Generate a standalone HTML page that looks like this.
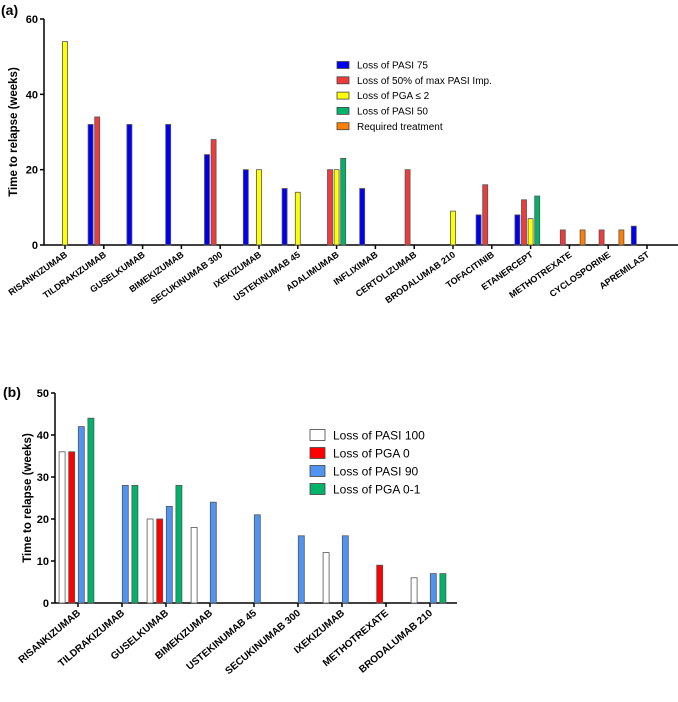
<!DOCTYPE html>
<html><head><meta charset="utf-8">
<style>body{margin:0;background:#fff}svg{display:block;font-family:"Liberation Sans",Arial,sans-serif}</style>
</head><body>
<svg id="s" width="678" height="702" viewBox="0 0 678 702"></svg>
<script>
// Panel (a) data
const catsA=["RISANKIZUMAB","TILDRAKIZUMAB","GUSELKUMAB","BIMEKIZUMAB","SECUKINUMAB 300","IXEKIZUMAB","USTEKINUMAB 45","ADALIMUMAB","INFLIXIMAB","CERTOLIZUMAB","BRODALUMAB 210","TOFACITINIB","ETANERCEPT","METHOTREXATE","CYCLOSPORINE","APREMILAST"];
const seriesNamesA=["Loss of PASI 75","Loss of 50% of max PASI Imp.","Loss of PGA \u2264 2","Loss of PASI 50","Required treatment"];
const pasi75A=[null,32,32,32,24,20,15,null,15,null,null,8,8,null,null,5];
const max50A=[null,34,null,null,28,null,null,20,null,20,null,16,12,4,4,null];
const pga2A=[54,null,null,null,null,20,14,20,null,null,9,null,7,null,null,null];
const pasi50A=[null,null,null,null,null,null,null,23,null,null,null,null,13,null,null,null];
const reqA=[null,null,null,null,null,null,null,null,null,null,null,null,null,4,4,null];
const ticksA=[0,20,40,60];
// Panel (b) data
const catsB=["RISANKIZUMAB","TILDRAKIZUMAB","GUSELKUMAB","BIMEKIZUMAB","USTEKINUMAB 45","SECUKINUMAB 300","IXEKIZUMAB","METHOTREXATE","BRODALUMAB 210"];
const seriesNamesB=["Loss of PASI 100","Loss of PGA 0","Loss of PASI 90","Loss of PGA 0-1"];
const pasi100B=[36,null,20,18,null,null,12,null,6];
const pga0B=[36,null,20,null,null,null,null,9,null];
const pasi90B=[42,28,23,24,21,16,16,null,7];
const pga01B=[44,28,28,null,null,null,null,null,7];
const ticksB=[0,10,20,30,40,50];

const svg=document.getElementById('s');const NS="http://www.w3.org/2000/svg";
function el(t,a,p){const e=document.createElementNS(NS,t);for(const k in a)e.setAttribute(k,a[k]);(p||svg).appendChild(e);return e;}

function panel(o){
  const g=el('g',{});
  
  
  const y=v=>o.y0-(v/o.ymax)*(o.y0-o.yTop);
  const x=i=>o.x0+i*o.step;
  const ya=el('line',{x1:o.ax,y1:o.yTop,x2:o.ax,y2:o.y0,stroke:'#000','stroke-width':1.5},g);
  
  const xa=el('line',{x1:o.ax,y1:o.y0,x2:o.xEnd,y2:o.y0,stroke:'#000','stroke-width':1.5},g);
  
  o.ticks.forEach(t=>{
    el('line',{x1:o.ax-4,y1:y(t),x2:o.ax,y2:y(t),stroke:'#000','stroke-width':1.5},g);
    const tx=el('text',{x:o.ax-6,y:y(t)+4,'text-anchor':'end','font-size':11,'font-weight':'bold'},g);
    tx.textContent=t;
    
  });
  o.cats.forEach((c,i)=>{
    el('line',{x1:x(i),y1:o.y0,x2:x(i),y2:o.y0+4,stroke:'#000','stroke-width':1.5},g);
    const tx=el('text',{x:x(i)+3,y:o.y0+11,'text-anchor':'end','font-size':o.lfs,'font-weight':'bold',transform:`rotate(${o.rot} ${x(i)+3} ${o.y0+11})`},g);
    tx.textContent=c;
    
  });
  const n=o.series.length;
  o.series.forEach((s,si)=>{
    s.forEach((v,i)=>{
      if(v==null)return;
      const cx=x(i)+o.shift+(si-(n-1)/2)*o.bstep;
      const r=el('rect',{x:cx-o.bw/2,y:y(v),width:o.bw,height:o.y0-y(v),fill:o.colors[si],stroke:'#555','stroke-width':0.8},g);
      
      
    });
  });
  const yt=el('text',{x:0,y:0,'text-anchor':'middle','font-size':11.5,'font-weight':'bold',transform:`translate(${o.ytX} ${(o.yTop+o.y0)/2}) rotate(-90)`},g);
  yt.textContent='Time to relapse (weeks)';
  
  const pl=el('text',{x:o.plX,y:o.plY,'font-size':14,'font-weight':'bold'},g);
  pl.textContent=o.label;
  
  o.names.forEach((nm,i)=>{
    const ly=o.lY+i*o.lStep;
    const lg=el('g',{},g);
    
    el('rect',{x:o.lX,y:ly-o.sw.h/2,width:o.sw.w,height:o.sw.h,fill:o.colors[i],stroke:'#444','stroke-width':0.8},lg);
    const t=el('text',{x:o.lX+o.sw.w+8,y:ly+o.lfs2*0.36,'font-size':o.lfs2},lg);
    t.textContent=nm;
  });
}
panel({name:'chart-a',label:'(a)',plX:1,plY:15,cats:catsA,series:[pasi75A,max50A,pga2A,pasi50A,reqA],
  colors:['#0000ee','#ee3b3b','#ffff00','#00b36b','#ff7f00'],names:seriesNamesA,ticks:ticksA,ymax:60,
  ax:44,y0:245,yTop:19,xEnd:678,x0:65,step:38.8,shift:0,bstep:6.6,bw:5,rot:-35,lfs:9,ytX:17,
  lX:337,lY:65,lStep:15.3,sw:{w:12,h:7},lfs2:10});
panel({name:'chart-b',label:'(b)',plX:3,plY:397,cats:catsB,series:[pasi100B,pga0B,pasi90B,pga01B],
  colors:['#ffffff','#ff0000','#4f94f0','#00b36b'],names:seriesNamesB,ticks:ticksB,ymax:50,
  ax:55,y0:603,yTop:393,xEnd:457,x0:78,step:44,shift:-1.5,bstep:9.6,bw:6,rot:-40,lfs:10,ytX:31,
  lX:310,lY:435,lStep:18,sw:{w:15,h:11},lfs2:12});
</script>
</body></html>
